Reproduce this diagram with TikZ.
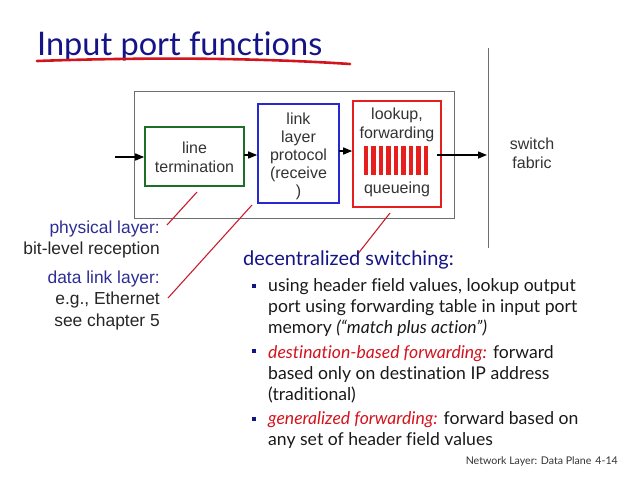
\documentclass[tikz,border=0pt]{standalone}
\usepackage{fontspec}
\setmainfont{Lato}[Ligatures={NoCommon}]
\newfontfamily\arial{Liberation Sans}
\usetikzlibrary{arrows.meta}
\definecolor{navy}{RGB}{20,20,135}
\definecolor{lblue}{RGB}{45,45,150}
\definecolor{myred}{RGB}{210,20,30}
\definecolor{linered}{RGB}{200,30,45}
\definecolor{boxgreen}{RGB}{30,110,40}
\definecolor{boxblue}{RGB}{40,40,210}
\definecolor{boxred}{RGB}{230,30,30}
\definecolor{fabgray}{RGB}{110,110,110}
\tikzset{
  diag/.style={font=\arial\fontsize{16}{18.5}\selectfont, text=black!80, align=center, inner sep=0pt, anchor=base},
  stagebox/.style={line width=1.6pt, inner sep=0pt},
  flow/.style={-{Triangle[length=9pt,width=7pt]}, line width=1.4pt},
  pointer/.style={linered, line width=1.1pt},
  lefttxt/.style={font=\arial\fontsize{17.4}{21}\selectfont, anchor=base east, inner sep=0pt, text=black!85},
  body/.style={font=\fontsize{17.6}{21}\selectfont, anchor=base west, inner sep=0pt, align=left, text=black!90},
  bullet/.style={fill=navy, minimum size=4.5pt, inner sep=0pt}
}
\begin{document}
\begin{tikzpicture}[x=1pt,y=-1pt]
\useasboundingbox (0,0) rectangle (640,480);
% title
\node[font=\fontsize{32.5}{36}\selectfont, text=navy, anchor=base west, inner sep=0pt] (title) at (37,55) {Input port functions};
\draw[myred, line width=2.6pt, line cap=round] (37,61) .. controls (150,57) and (260,58) .. (350,64);
% outer box
\node[draw=fabgray, line width=1pt, minimum width=320pt, minimum height=127pt, inner sep=0pt] (port) at (294,154.5) {};
% stages (multi-line nodes: base = last line's baseline)
\node[stagebox, draw=boxgreen, minimum width=99pt, minimum height=59pt] (lt) at (194.5,156.5) {};
\node[diag] (ltt) at (194.5,172) {line\\termination};
\node[stagebox, draw=boxblue, minimum width=81pt, minimum height=99pt] (llp) at (298.5,153.5) {};
\node[diag, font=\arial\fontsize{16}{18}\selectfont] (llpt) at (298.5,196) {link\\layer\\protocol\\(receive\\)};
\node[stagebox, draw=boxred, minimum width=88pt, minimum height=106pt] (lf) at (397,154) {};
\node[diag] (lft) at (397,138) {lookup,\\forwarding};
\node[diag] (qt) at (397,193) {queueing};
\foreach \i in {0,...,8}{
  \fill[boxred] (363.5+\i*7.5,146) rectangle ++(4.8,29);
}
% fabric
\draw[fabgray, line width=1pt] (488,48) coordinate (ftop) -- (488,248) coordinate (fbot);
\node[diag] (fab) at (532,168) {switch\\fabric};
% arrows
\coordinate (inp) at (115,157);
\draw[flow] (inp) -- (lt.west |- inp);
\draw[flow] (244,155) -- (llp.west |- 0,155);
\draw[flow] (339,151) -- (lf.west |- 0,151);
\coordinate (outp) at (487,155);
\draw[flow] (437,155) -- (outp);
% left texts
\node[lefttxt, text=lblue] (phy) at (160,233) {physical layer:};
\node[lefttxt] (phy2) at (160,254) {bit-level reception};
\node[lefttxt, text=lblue] (dll) at (160,283) {data link layer:};
\node[lefttxt] (dll2) at (160,304) {e.g., Ethernet};
\node[lefttxt] (dll3) at (160,326) {see chapter 5};
% pointers
\draw[pointer] (197,192) coordinate (p1a) -- (167,225) coordinate (p1b);
\draw[pointer] (252,205) coordinate (p2a) -- (168,298) coordinate (p2b);
\draw[pointer] (390,213) coordinate (p3a) -- (357,255) coordinate (p3b);
% body
\node[font=\fontsize{20}{24}\selectfont, text=navy, anchor=base west, inner sep=0pt] (dec) at (243,265) {decentralized switching:};
\node[bullet] (b1) at (254,286) {};
\node[body] (t1) at (268,333) {using header field values, lookup output\\port using forwarding table in input port\\memory \textit{(“match plus action”)}};
\node[bullet] (b2) at (254,351) {};
\node[body] (t2) at (268,400) {\textcolor{myred}{\textit{destination-based forwarding:}} forward\\based only on destination IP address\\(traditional)};
\node[bullet] (b3) at (254,419) {};
\node[body] (t3) at (268,445) {\textcolor{myred}{\textit{generalized forwarding:}} forward based on\\any set of header field values};
% footer
\node[font=\fontsize{10.6}{13}\selectfont, text=black!80, anchor=base east, inner sep=0pt] (foot) at (618,464) {Network Layer: Data Plane\hspace{4pt}4-14};
\end{tikzpicture}
\end{document}
